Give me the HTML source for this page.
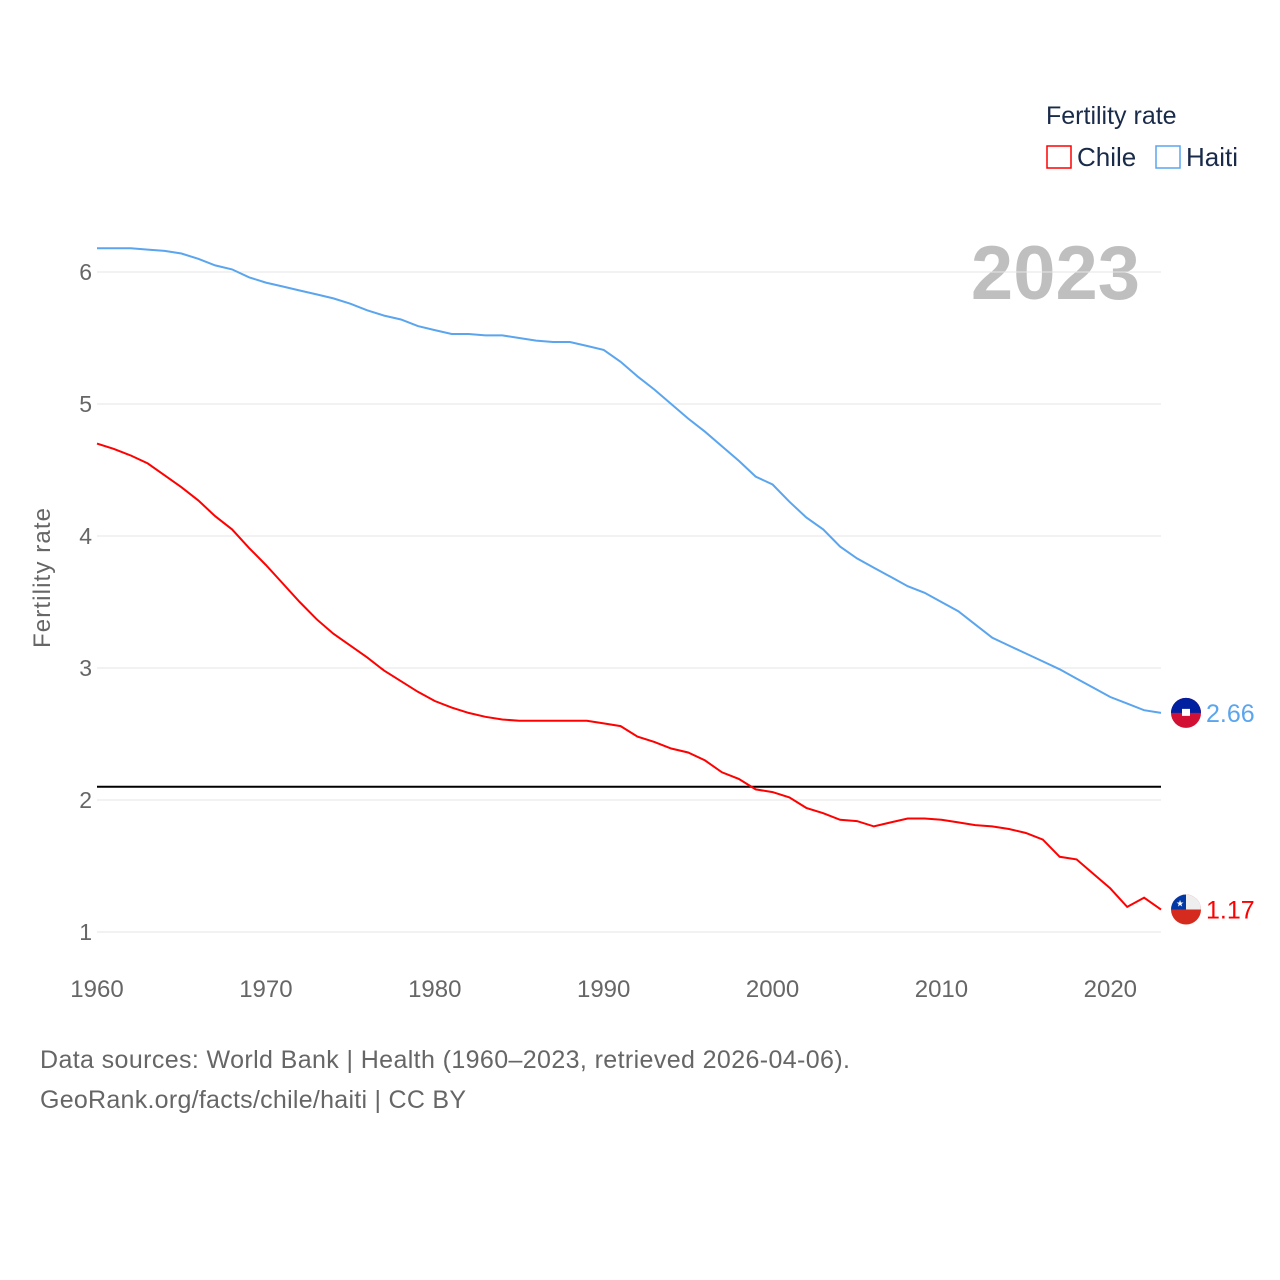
<!DOCTYPE html>
<html><head><meta charset="utf-8">
<style>
body{margin:0;background:#fff;font-family:"Liberation Sans",sans-serif;}
svg{display:block}
</style></head>
<body>
<svg id="chart" width="1280" height="1280">
<text x="1046" y="124" font-size="25" fill="#1a2b4a">Fertility rate</text>
<g>
<rect x="1047" y="146" width="24" height="22" fill="none" stroke="#f00" stroke-width="1.5"/>
<text x="1077" y="166" font-size="26" fill="#1a2b4a">Chile</text></g>
<g>
<rect x="1156" y="146" width="24" height="22" fill="none" stroke="#5aa5ee" stroke-width="1.5"/>
<text x="1186" y="166" font-size="26" fill="#1a2b4a">Haiti</text></g>
<text x="1140" y="299" font-size="76" font-weight="bold" fill="#bfbfbf" text-anchor="end">2023</text>
<text transform="translate(50,578) rotate(-90)" font-size="24" fill="#666" text-anchor="middle" textLength="140">Fertility rate</text>
<g id="grid"></g><g id="lines"></g>
<text x="40" y="1068" font-size="25" fill="#666" textLength="810">Data sources: World Bank | Health (1960–2023, retrieved 2026-04-06).</text>
<text x="40" y="1108" font-size="25" fill="#666" textLength="426">GeoRank.org/facts/chile/haiti | CC BY</text>
</svg>
<script>
const years=[];for(let y=1960;y<=2023;y++)years.push(y);
const haiti=[6.18,6.18,6.18,6.17,6.16,6.14,6.10,6.05,6.02,5.96,5.92,5.89,5.86,5.83,5.80,5.76,5.71,5.67,5.64,5.59,5.56,5.53,5.53,5.52,5.52,5.50,5.48,5.47,5.47,5.44,5.41,5.32,5.21,5.11,5.00,4.89,4.79,4.68,4.57,4.45,4.39,4.26,4.14,4.05,3.92,3.83,3.76,3.69,3.62,3.57,3.50,3.43,3.33,3.23,3.17,3.11,3.05,2.99,2.92,2.85,2.78,2.73,2.68,2.66];
const chile=[4.70,4.66,4.61,4.55,4.46,4.37,4.27,4.15,4.05,3.91,3.78,3.64,3.50,3.37,3.26,3.17,3.08,2.98,2.90,2.82,2.75,2.70,2.66,2.63,2.61,2.60,2.60,2.60,2.60,2.60,2.58,2.56,2.48,2.44,2.39,2.36,2.30,2.21,2.16,2.08,2.06,2.02,1.94,1.90,1.85,1.84,1.80,1.83,1.86,1.86,1.85,1.83,1.81,1.80,1.78,1.75,1.70,1.57,1.55,1.44,1.33,1.19,1.26,1.17];
const yTicks=[1,2,3,4,5,6];
const xTicks=[1960,1970,1980,1990,2000,2010,2020];
const replacement=2.1;
const NS="http://www.w3.org/2000/svg";
const X=y=>97+(y-1960)*(1064/63);
const Y=v=>932-(v-1)*132;
function mk(t,a,p){const e=document.createElementNS(NS,t);for(const k in a)e.setAttribute(k,a[k]);p.appendChild(e);return e;}
const grid=document.getElementById('grid'),lines=document.getElementById('lines');
yTicks.forEach(t=>{
 const l=mk('line',{x1:97,x2:1161,y1:Y(t),y2:Y(t),stroke:'#e6e6e6','stroke-width':1},grid);
 
 
 const tx=mk('text',{x:92,y:Y(t)+8,'font-size':23,fill:'#666','text-anchor':'end'},grid);tx.textContent=t;
 
 
});
xTicks.forEach(t=>{
 const tx=mk('text',{x:X(t),y:997,'font-size':24,fill:'#666','text-anchor':'middle'},grid);tx.textContent=t;
 
 
});
const rl=mk('line',{x1:97,x2:1161,y1:Y(replacement),y2:Y(replacement),stroke:'#000','stroke-width':2},lines);


function series(vals,color,name){
 const p=mk('path',{d:vals.map((v,i)=>(i?'L':'M')+X(years[i]).toFixed(1)+','+Y(v).toFixed(1)).join(''),fill:'none',stroke:color,'stroke-width':2},lines);
 
 
 const last=vals[vals.length-1];
 const lbl=mk('text',{x:1206,y:Y(last)+9,'font-size':25,fill:color},lines);lbl.textContent=last.toFixed(2);
 
 
 return Y(last);
}
const hy=series(haiti,'#5aa5ee','haiti');
const cy=series(chile,'#f00','chile');
let g=mk('g',{},lines);


mk('circle',{cx:1186,cy:hy,r:15,fill:'#d21034'},g);
mk('path',{d:`M1171,${hy} A15,15 0 0 1 1201,${hy} Z`,fill:'#00209f'},g);
mk('rect',{x:1182,y:hy-4,width:8,height:7,fill:'#fff'},g);
g=mk('g',{},lines);


mk('circle',{cx:1186,cy:cy,r:15,fill:'#d52b1e'},g);
mk('path',{d:`M1171,${cy} A15,15 0 0 1 1201,${cy} Z`,fill:'#eee'},g);
mk('path',{d:`M1171,${cy} A15,15 0 0 1 1186,${cy-15} L1186,${cy} Z`,fill:'#0039a6'},g);
const st=mk('text',{x:1180,y:cy-3,'font-size':9,fill:'#fff','text-anchor':'middle'},g);st.textContent='★';
</script>
</body></html>
